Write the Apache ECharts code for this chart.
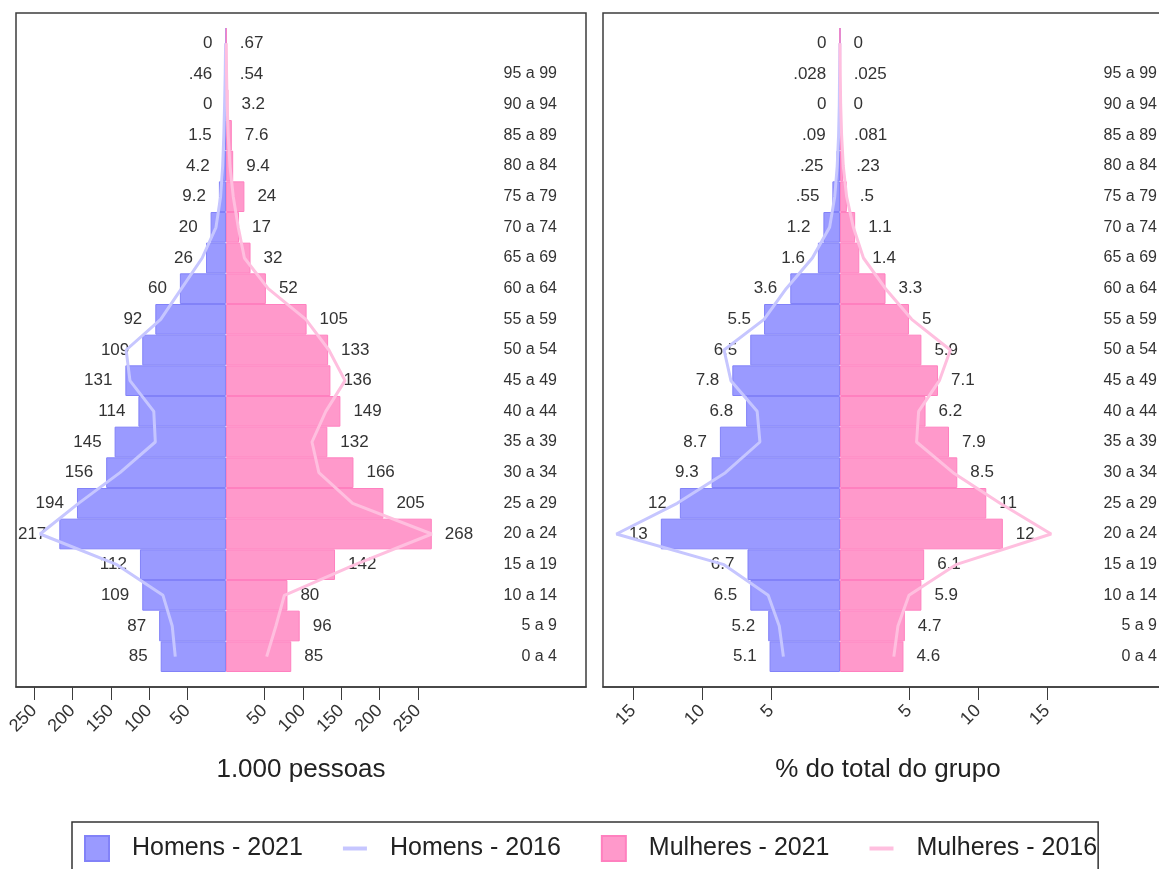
<!DOCTYPE html>
<html>
<head>
<meta charset="utf-8">
<script src="https://cdn.jsdelivr.net/npm/echarts@6/dist/echarts.min.js"></script>
<style>
html,body{margin:0;padding:0;background:#fff;overflow:hidden;width:1159px;height:869px;}
#chart{width:1200px;height:869px;}
</style>
</head>
<body>
<div id="chart"></div>
<script>
// Categories, bottom to top
const ages = ['0 a 4','5 a 9','10 a 14','15 a 19','20 a 24','25 a 29','30 a 34','35 a 39','40 a 44','45 a 49','50 a 54','55 a 59','60 a 64','65 a 69','70 a 74','75 a 79','80 a 84','85 a 89','90 a 94','95 a 99',''];

// 1.000 pessoas
const homens2021 = [85, 87, 109, 112, 217, 194, 156, 145, 114, 131, 109, 92, 60, 26, 20, 9.2, 4.2, 1.5, 0, 0.46, 0];
const mulheres2021 = [85, 96, 80, 142, 268, 205, 166, 132, 149, 136, 133, 105, 52, 32, 17, 24, 9.4, 7.6, 3.2, 0.54, 0.67];
const homens2016 = [66, 70, 82, 142, 242, 192, 138, 92, 94, 125, 130, 85, 58, 31, 13, 7, 4.3, 2.8, 1.8, 1, 0.5];
const mulheres2016 = [53, 65, 76, 168, 268, 165, 121, 112, 130, 155, 134, 104, 55, 24, 16, 9.5, 5.2, 3, 1.5, 0.8, 0.4];

// % do total do grupo
const homens2021Pct = [5.1, 5.2, 6.5, 6.7, 12.98, 11.6, 9.3, 8.7, 6.8, 7.8, 6.5, 5.5, 3.6, 1.6, 1.2, 0.55, 0.25, 0.09, 0, 0.028, 0];
const mulheres2021Pct = [4.6, 4.7, 5.9, 6.1, 11.8, 10.6, 8.5, 7.9, 6.2, 7.1, 5.9, 5, 3.3, 1.4, 1.1, 0.5, 0.23, 0.081, 0, 0.025, 0];
const homens2016Pct = [4.1, 4.4, 5.2, 8.4, 16.2, 11.8, 8.3, 5.8, 6.0, 7.9, 8.4, 5.5, 3.9, 2.0, 0.75, 0.38, 0.2, 0.1, 0.05, 0.03, 0.01];
const mulheres2016Pct = [3.9, 4.2, 5.0, 8.4, 15.3, 11.6, 8.2, 5.55, 5.7, 7.2, 8.0, 5.2, 3.3, 1.7, 0.97, 0.48, 0.24, 0.12, 0.05, 0.02, 0];

const ticksAbs = [-250, -200, -150, -100, -50, 50, 100, 150, 200, 250];
const ticksPct = [-15, -10, -5, 5, 10, 15];

const FONT = "'Liberation Sans', Arial, sans-serif";
const TXT = '#333';
const MEN_FILL = '#9a9aff', MEN_BORDER = '#8282f8';
const WOM_FILL = '#ff99cb', WOM_BORDER = '#ff80bf';
const MEN_LINE = '#c6c6ff', WOM_LINE = '#ffbfdf';

function fmt(v) {
  v = Math.abs(v);
  if (v === 0) return '0';
  if (v >= 10) return String(Math.round(v));
  let s = String(Number(v.toPrecision(2)));
  if (s.startsWith('0.')) s = s.slice(1);
  return s;
}
const neg = a => a.map(v => -v);

const panels = [
  {left: 16, min: -273.4, max: 468.8, ticks: ticksAbs, name: '1.000 pessoas', labelMargin: 29,
   m21: homens2021, w21: mulheres2021, m16: homens2016, w16: mulheres2016},
  {left: 603, min: -17.17, max: 24.13, ticks: ticksPct, name: '% do total do grupo', labelMargin: 16,
   m21: homens2021Pct, w21: mulheres2021Pct, m16: homens2016Pct, w16: mulheres2016Pct}
];

const grid = [], xAxis = [], yAxis = [], series = [];
panels.forEach((p, i) => {
  const fi = i * 2, di = i * 2 + 1;
  grid.push({left: p.left, top: 13, width: 570, height: 674, show: true, borderColor: '#3c3c3c', borderWidth: 1.5, backgroundColor: 'transparent'});
  grid.push({left: p.left, top: 28, width: 570, height: 644});
  xAxis.push({
    type: 'value', gridIndex: fi, min: p.min, max: p.max, position: 'bottom',
    axisLine: {show: true, lineStyle: {color: '#3c3c3c', width: 1.5}},
    axisTick: {show: true, length: 13, customValues: p.ticks, lineStyle: {color: '#3c3c3c', width: 1}},
    axisLabel: {show: true, customValues: p.ticks, rotate: 45, margin: 21, fontSize: 18, color: TXT, fontFamily: FONT,
                formatter: v => String(Math.abs(v))},
    splitLine: {show: false},
    name: p.name, nameLocation: 'middle', nameGap: 70,
    nameTextStyle: {fontSize: 26, color: '#222', fontFamily: FONT}
  });
  xAxis.push({type: 'value', gridIndex: di, min: p.min, max: p.max, show: false, splitLine: {show: false}});
  yAxis.push({type: 'value', gridIndex: fi, show: false, splitLine: {show: false}});
  yAxis.push({
    type: 'category', gridIndex: di, data: ages, position: 'right',
    axisLine: {show: false}, axisTick: {show: false}, splitLine: {show: false},
    axisLabel: {inside: true, margin: p.labelMargin, fontSize: 16, color: TXT, fontFamily: FONT, interval: 0}
  });
  const lbl = pos => ({show: true, position: pos, distance: 13, fontSize: 17, color: TXT, fontFamily: FONT,
                       formatter: prm => fmt(prm.value)});
  series.push({
    name: 'Homens - 2021', type: 'bar', xAxisIndex: di, yAxisIndex: di, data: neg(p.m21),
    barWidth: '100%', barGap: '-100%', itemStyle: {color: MEN_FILL, borderColor: MEN_BORDER, borderWidth: 1},
    label: lbl('left'), emphasis: {disabled: true}, z: 2
  });
  series.push({
    name: 'Mulheres - 2021', type: 'bar', xAxisIndex: di, yAxisIndex: di, data: p.w21,
    barWidth: '100%', barGap: '-100%', itemStyle: {color: WOM_FILL, borderColor: WOM_BORDER, borderWidth: 1},
    label: lbl('right'), emphasis: {disabled: true}, z: 2
  });
  series.push({
    name: 'Homens - 2016', type: 'line', xAxisIndex: di, yAxisIndex: di, data: neg(p.m16),
    symbol: 'none', lineStyle: {color: MEN_LINE, width: 3}, itemStyle: {color: MEN_LINE},
    emphasis: {disabled: true}, z: 3
  });
  series.push({
    name: 'Mulheres - 2016', type: 'line', xAxisIndex: di, yAxisIndex: di, data: p.w16,
    symbol: 'none', lineStyle: {color: WOM_LINE, width: 3}, itemStyle: {color: WOM_LINE},
    emphasis: {disabled: true}, z: 3
  });
});

const LINE_ICON = 'path://M0,0 H24 V4 H0 Z';
const chart = echarts.init(document.getElementById('chart'), null, {renderer: 'canvas'});
chart.setOption({
  animation: false,
  backgroundColor: '#fff',
  textStyle: {fontFamily: FONT},
  grid, xAxis, yAxis, series,
  legend: {
    data: [
      {name: 'Homens - 2021', icon: 'rect'},
      {name: 'Homens - 2016', icon: LINE_ICON},
      {name: 'Mulheres - 2021', icon: 'rect'},
      {name: 'Mulheres - 2016', icon: LINE_ICON}
    ],
    left: 72, top: 822, orient: 'horizontal',
    itemWidth: 24, itemHeight: 25, itemGap: 40,
    padding: [13, 1, 30, 12],
    borderColor: '#333', borderWidth: 1.5, backgroundColor: '#fff',
    selectedMode: false,
    textStyle: {fontSize: 25, color: '#222', fontFamily: FONT, padding: [0, 0, 0, 18]}
  }
});
</script>
</body>
</html>
